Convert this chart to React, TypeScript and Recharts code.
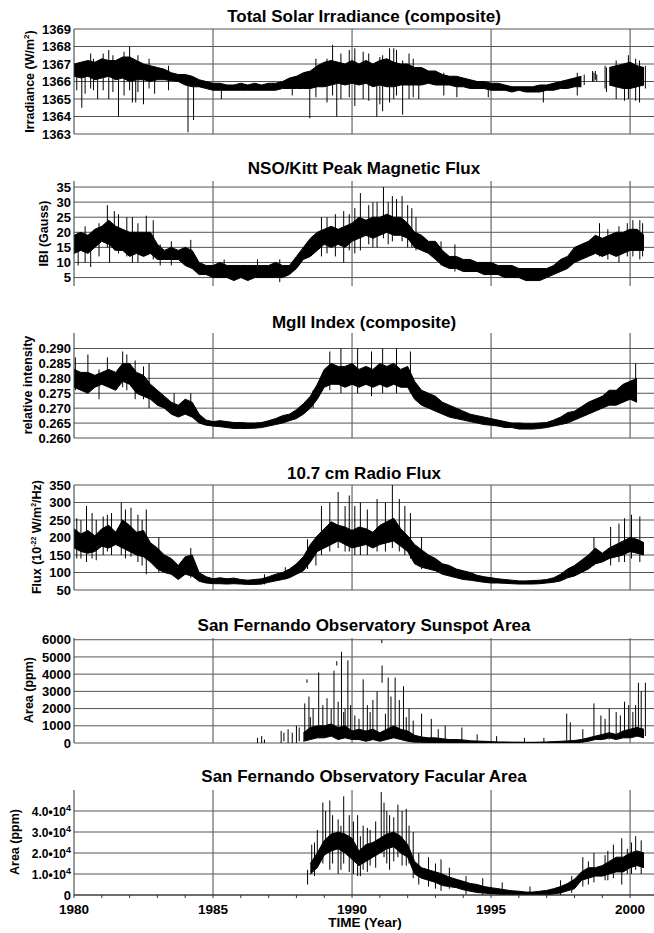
import React from "react";
import { ComposedChart, Area, Line, XAxis, YAxis, CartesianGrid } from "recharts";

const FONT = '"Liberation Sans", Arial, Helvetica, sans-serif';
const W = 654;
const PLOT_H = 105;
const X_MIN = 1980;
const X_MAX = 2000.86;
// bands are sampled every quarter year, starting at 1980.0
const STEP = 0.25;

const YEAR_TICKS = [1980, 1981, 1982, 1983, 1984, 1985, 1986, 1987, 1988, 1989, 1990, 1991, 1992, 1993, 1994, 1995, 1996, 1997, 1998, 1999, 2000];
const GRID_YEARS = [1985, 1990, 1995, 2000];

// ---- Total Solar Irradiance (W/m2) ----
const TSI_TICKS = [1363, 1364, 1365, 1366, 1367, 1368, 1369];
const TSI_LO = [
  1366.3, 1366.2, 1366.3, 1366.1,
  1366.2, 1366.3, 1366.1, 1366.2,
  1366.0, 1366.1, 1366.1, 1366.0,
  1366.1, 1366.1, 1366.05, 1366.0,
  1365.8, 1365.7, 1365.7, 1365.6,
  1365.5, 1365.5, 1365.5, 1365.5,
  1365.5, 1365.5, 1365.5, 1365.5,
  1365.5, 1365.5, 1365.6, 1365.6,
  1365.6, 1365.6, 1365.6, 1365.7,
  1365.7, 1365.8, 1365.9, 1365.8,
  1365.9, 1365.8, 1365.9, 1365.7,
  1365.8, 1365.7, 1365.7, 1365.8,
  1365.8, 1365.8, 1365.8, 1365.9,
  1365.8, 1365.8, 1365.8, 1365.7,
  1365.7, 1365.6, 1365.6, 1365.6,
  1365.5, 1365.5, 1365.5, 1365.4,
  1365.5, 1365.4, 1365.4, 1365.4,
  1365.5, 1365.5, 1365.6, 1365.6,
  1365.7, 1365.7, null, null,
  null, 1365.8, 1365.7, 1365.6,
  1365.6, 1365.7, 1365.8,
];
const TSI_HI = [
  1367.0, 1367.1, 1367.2, 1367.1,
  1367.3, 1367.2, 1367.2, 1367.4,
  1367.4, 1367.2, 1367.0, 1366.9,
  1366.8, 1366.7, 1366.5, 1366.4,
  1366.4, 1366.3, 1366.1, 1366.0,
  1365.9, 1365.9, 1365.8, 1365.8,
  1365.9, 1365.8, 1365.9, 1365.8,
  1365.9, 1365.9, 1366.0, 1366.2,
  1366.3, 1366.5, 1366.6, 1366.9,
  1367.1, 1367.2, 1367.1, 1367.0,
  1367.2, 1367.0, 1367.2, 1367.0,
  1367.2, 1367.3, 1367.1, 1367.0,
  1367.0, 1366.8, 1366.8, 1366.6,
  1366.6, 1366.4, 1366.3, 1366.3,
  1366.2, 1366.1, 1366.0, 1366.0,
  1365.9, 1365.9, 1365.8, 1365.7,
  1365.7, 1365.7, 1365.7, 1365.8,
  1365.8, 1365.9, 1366.0, 1366.1,
  1366.2, 1366.3, null, null,
  null, 1366.8, 1366.9, 1367.0,
  1367.1, 1366.9, 1366.8,
];
const TSI_SPK_T = [1980.1, 1980.28, 1980.4, 1980.6, 1980.7, 1980.85, 1981.05, 1981.25, 1981.4, 1981.6, 1981.8, 1982.0, 1982.1, 1982.22, 1982.3, 1982.5, 1982.7, 1982.9, 1983.4, 1984.1, 1984.3, 1985.3, 1987.85, 1988.48, 1988.7, 1989.1, 1989.3, 1989.45, 1989.6, 1989.9, 1990.1, 1990.4, 1990.6, 1990.89, 1991.0, 1991.1, 1991.35, 1991.5, 1991.6, 1991.82, 1992.05, 1992.2, 1992.4, 1993.3, 1993.77, 1994.9, 1996.88, 1998.1, 1998.35, 1998.65, 1998.7, 1998.75, 1998.8, 1999.1, 1999.15, 1999.5, 1999.8, 1999.94, 2000.2, 2000.34, 2000.55];
const TSI_SPK_LO = [1365.5, 1364.5, 1365.3, 1365.6, 1365.5, 1365.0, 1365.5, 1365.0, 1365.4, 1364.0, 1365.2, 1365.5, 1364.8, 1364.8, 1365.4, 1364.7, 1365.6, 1365.3, 1365.5, 1363.1, 1363.8, 1365.0, 1365.2, 1363.9, 1365.1, 1364.8, 1365.2, 1364.0, 1365.0, 1365.1, 1364.6, 1365.0, 1364.9, 1364.0, 1364.7, 1364.3, 1364.8, 1365.0, 1365.2, 1364.1, 1365.0, 1365.1, 1365.0, 1365.2, 1365.1, 1365.1, 1364.8, 1365.2, 1365.8, 1366.0, 1366.0, 1366.1, 1366.0, 1365.6, 1365.4, 1365.0, 1364.9, 1365.0, 1364.9, 1364.8, 1365.6];
const TSI_SPK_HI = [1367.0, 1366.8, 1367.0, 1367.6, 1367.3, 1367.0, 1367.6, 1367.8, 1367.5, 1366.8, 1367.7, 1368.0, 1366.5, 1366.5, 1367.5, 1366.5, 1367.3, 1366.8, 1366.9, 1366.3, 1366.2, 1365.8, 1366.0, 1366.3, 1367.3, 1367.3, 1368.1, 1367.0, 1367.6, 1367.8, 1367.9, 1367.7, 1367.6, 1367.0, 1367.4, 1367.5, 1367.9, 1367.9, 1367.8, 1367.2, 1367.6, 1367.3, 1366.8, 1366.5, 1366.3, 1365.9, 1365.7, 1366.5, 1366.4, 1366.6, 1366.5, 1366.6, 1366.4, 1366.9, 1366.8, 1367.2, 1366.8, 1367.5, 1367.3, 1367.2, 1366.9];

// ---- NSO/Kitt Peak magnetic flux (G) ----
const MAG_TICKS = [5, 10, 15, 20, 25, 30, 35];
const MAG_LO = [
  13, 14, 13, 15,
  17, 16, 14, 14,
  12, 13, 12, 13,
  11, 11, 11, 11,
  9, 8, 6, 6,
  5, 5, 5, 4,
  5, 4, 5, 5,
  5, 5, 5, 6,
  8, 11, 12, 14,
  16, 15, 16, 15,
  17, 18, 19, 18,
  19, 20, 19, 19,
  18, 15, 14, 13,
  11, 9, 8, 8,
  7, 7, 7, 6,
  6, 6, 5, 5,
  5, 4, 4, 4,
  5, 6, 7, 8,
  10, 11, 12, 13,
  12, 13, 12, 13,
  14, 14, 14,
];
const MAG_HI = [
  19, 20, 19, 21,
  22, 24, 22, 21,
  20, 20, 20, 20,
  16, 14, 15, 14,
  15, 14, 10, 9,
  9, 10, 9, 9,
  9, 9, 9, 9,
  9, 10, 9, 9,
  12, 15, 18, 20,
  21, 22, 21, 22,
  23, 25, 24, 25,
  25, 26, 25, 25,
  23, 20, 19, 17,
  17, 14, 12, 12,
  11, 11, 10, 10,
  10, 9, 9, 9,
  8, 8, 8, 8,
  8, 9, 11, 12,
  15, 16, 17, 19,
  18, 19, 20, 20,
  21, 21, 19,
];
const MAG_SPK_T = [1980.15, 1980.4, 1980.6, 1980.9, 1981.2, 1981.28, 1981.45, 1981.6, 1981.9, 1982.1, 1982.3, 1982.6, 1982.85, 1983.1, 1983.5, 1984.2, 1985.4, 1986.6, 1987.4, 1988.9, 1989.1, 1989.4, 1989.7, 1989.9, 1990.1, 1990.3, 1990.6, 1990.75, 1990.9, 1991.13, 1991.3, 1991.45, 1991.6, 1991.8, 1992.0, 1992.15, 1992.3, 1993.2, 1993.7, 1998.9, 1999.2, 1999.6, 1999.9, 2000.1, 2000.35, 2000.45];
const MAG_SPK_LO = [9, 10, 8.5, 12, 15, 10, 14, 13, 12, 10, 10, 14, 11, 9, 9, 9, 6, 5, 3.5, 12, 13, 12, 10, 14, 13, 14, 16, 15, 15, 18, 16, 17, 20, 17, 15, 15, 14, 9, 7, 12, 11, 10, 12, 12, 11, 12];
const MAG_SPK_HI = [20, 22, 18, 23, 29, 22, 27, 26, 25, 25, 23, 25.5, 24, 16, 17, 17.5, 11, 11, 11, 25, 25, 26, 27, 26, 28, 33, 29, 30, 30, 35, 30, 32, 31, 32, 29, 28, 25, 17, 16, 23, 21, 22, 23, 24, 24, 23];

// ---- MgII index (relative intensity) ----
const MG_TICKS = [0.26, 0.265, 0.27, 0.275, 0.28, 0.285, 0.29];
const MG_LO = [
  0.277, 0.276, 0.275, 0.277,
  0.278, 0.277, 0.276, 0.279,
  0.278, 0.275, 0.274, 0.273,
  0.271, 0.27, 0.268, 0.267,
  0.268, 0.267, 0.265, 0.2643,
  0.264, 0.2638, 0.2635, 0.2632,
  0.2632, 0.2632, 0.2633, 0.2635,
  0.264, 0.2645, 0.265, 0.2658,
  0.2665, 0.268, 0.27, 0.273,
  0.277, 0.278, 0.278, 0.277,
  0.278, 0.277, 0.278, 0.277,
  0.278, 0.277, 0.278, 0.277,
  0.277, 0.273, 0.271, 0.27,
  0.269, 0.268, 0.267, 0.2665,
  0.266, 0.2655, 0.265, 0.2645,
  0.2643, 0.264, 0.2635, 0.2635,
  0.263, 0.263, 0.263, 0.2632,
  0.2635, 0.264, 0.2645, 0.265,
  0.266, 0.267, 0.268, 0.269,
  0.27, 0.271, 0.271, 0.272,
  0.273, 0.272, null,
];
const MG_HI = [
  0.283, 0.282, 0.282, 0.281,
  0.282, 0.283, 0.282, 0.285,
  0.285, 0.282, 0.281, 0.278,
  0.276, 0.274, 0.272, 0.271,
  0.273, 0.272, 0.268, 0.266,
  0.2655, 0.2658, 0.2655, 0.2652,
  0.2652, 0.265, 0.265, 0.2652,
  0.2658, 0.2665, 0.2675, 0.268,
  0.2695, 0.2715, 0.274, 0.278,
  0.283, 0.285, 0.284, 0.284,
  0.285, 0.283, 0.284, 0.283,
  0.285, 0.284, 0.285, 0.283,
  0.284, 0.279, 0.276, 0.275,
  0.274, 0.272, 0.271, 0.27,
  0.269, 0.268, 0.2675, 0.267,
  0.2665, 0.266, 0.2655, 0.265,
  0.265, 0.2648, 0.2648, 0.265,
  0.2652, 0.266, 0.267, 0.2685,
  0.269, 0.2705, 0.272, 0.273,
  0.274, 0.276, 0.276, 0.278,
  0.279, 0.28, null,
];
const MG_SPK_T = [1980.05, 1980.5, 1980.9, 1981.2, 1981.75, 1981.9, 1982.2, 1982.5, 1982.7, 1983.6, 1984.2, 1988.6, 1989.2, 1989.6, 1990.2, 1990.7, 1991.1, 1991.6, 1992.1, 2000.2];
const MG_SPK_LO = [0.276, 0.275, 0.273, 0.278, 0.277, 0.276, 0.273, 0.273, 0.27, 0.268, 0.267, 0.27, 0.276, 0.275, 0.275, 0.274, 0.275, 0.275, 0.275, 0.272];
const MG_SPK_HI = [0.287, 0.288, 0.283, 0.287, 0.289, 0.288, 0.286, 0.284, 0.285, 0.275, 0.275, 0.276, 0.289, 0.29, 0.29, 0.289, 0.29, 0.29, 0.289, 0.285];

// ---- 10.7 cm radio flux (10^-22 W/m2/Hz) ----
const FLX_TICKS = [50, 100, 150, 200, 250, 300, 350];
const FLX_LO = [
  170, 160, 155, 160,
  175, 170, 180, 170,
  160, 150, 145, 130,
  110, 100, 95, 80,
  95, 90, 75, 70,
  68, 68, 67, 68,
  67, 66, 66, 67,
  72, 76, 80, 85,
  95, 105, 130, 160,
  170, 180, 190, 180,
  170, 175, 180, 170,
  180, 185, 190, 175,
  160, 125, 115, 110,
  105, 95, 90, 85,
  80, 78, 75, 72,
  70, 70, 69, 68,
  67, 67, 67, 68,
  70, 72, 76, 85,
  90, 100, 110, 125,
  130, 140, 145, 150,
  160, 155, 150,
];
const FLX_HI = [
  225, 210, 220, 205,
  225, 235, 215, 250,
  235, 215, 220, 185,
  170, 150, 140, 120,
  145, 150, 100, 88,
  82, 85, 82, 84,
  80, 78, 80, 82,
  88, 95, 100, 110,
  125, 145, 180, 205,
  225, 245, 235, 230,
  220, 230, 225, 215,
  235, 245, 255, 225,
  205, 180, 165, 150,
  140, 125, 120, 110,
  105, 100, 92, 88,
  85, 82, 80, 78,
  76, 76, 77, 78,
  80, 85, 95, 110,
  120, 135, 150, 170,
  155, 170, 180, 190,
  200, 195, 185,
];
const FLX_SPK_T = [1980.1, 1980.25, 1980.45, 1980.65, 1980.8, 1981.05, 1981.2, 1981.35, 1981.7, 1981.85, 1982.05, 1982.3, 1982.45, 1982.6, 1983.05, 1984.2, 1986.85, 1987.6, 1988.4, 1988.7, 1988.9, 1989.2, 1989.5, 1989.75, 1989.9, 1990.1, 1990.3, 1990.55, 1990.9, 1991.2, 1991.45, 1991.7, 1991.9, 1992.1, 1992.5, 1998.7, 1999.3, 1999.6, 1999.8, 2000.05, 2000.35];
const FLX_SPK_LO = [140, 140, 130, 140, 135, 150, 160, 150, 150, 140, 145, 130, 120, 95, 100, 85, 66, 80, 110, 120, 150, 160, 170, 160, 160, 150, 150, 150, 160, 160, 170, 160, 150, 140, 110, 120, 120, 130, 130, 140, 130];
const FLX_SPK_HI = [255, 250, 290, 270, 250, 260, 265, 270, 300, 280, 285, 265, 250, 280, 200, 170, 95, 115, 195, 200, 290, 300, 330, 290, 320, 290, 300, 280, 310, 300, 350, 310, 290, 270, 200, 200, 230, 240, 255, 265, 260];

// ---- SFO sunspot area (ppm) ----
const SSA_TICKS = [0, 1000, 2000, 3000, 4000, 5000, 6000];
const SSA_LO = [
  null, null, null, null,
  null, null, null, null,
  null, null, null, null,
  null, null, null, null,
  null, null, null, null,
  null, null, null, null,
  null, null, null, null,
  null, null, null, null,
  null, 100, 200, 300,
  300, 400, 200, 300,
  200, 200, 100, 200,
  100, 200, 300, 200,
  100, 50, 50, 0,
  0, 0, 0, 0,
  0, 0, 0, 0,
  0, 0, 0, 0,
  0, 0, 0, 0,
  0, 0, 0, 0,
  0, 50, 100, 200,
  200, 300, 200, 300,
  300, 400, 300,
];
const SSA_HI = [
  null, null, null, null,
  null, null, null, null,
  null, null, null, null,
  null, null, null, null,
  null, null, null, null,
  null, null, null, null,
  null, null, null, null,
  null, null, null, null,
  null, 600, 900, 1000,
  1000, 1100, 900, 1000,
  700, 800, 700, 800,
  600, 800, 1000, 800,
  700, 450, 350, 300,
  300, 250, 200, 200,
  180, 130, 110, 100,
  80, 60, 60, 50,
  50, 40, 40, 50,
  60, 80, 100, 120,
  150, 200, 300, 400,
  500, 600, 500, 700,
  800, 900, 800,
];
const SSA_SPK_T = [1986.6, 1986.75, 1986.85, 1987.45, 1987.55, 1987.7, 1987.85, 1988.0, 1988.1, 1988.3, 1988.38, 1988.45, 1988.5, 1988.6, 1988.8, 1988.95, 1989.1, 1989.25, 1989.35, 1989.45, 1989.5, 1989.62, 1989.7, 1989.75, 1989.85, 1989.95, 1990.1, 1990.25, 1990.4, 1990.55, 1990.65, 1990.75, 1990.9, 1991.07, 1991.08, 1991.2, 1991.3, 1991.4, 1991.55, 1991.7, 1991.85, 1991.95, 1992.05, 1992.2, 1992.5, 1992.85, 1993.1, 1993.35, 1993.95, 1994.5, 1995.2, 1996.2, 1996.9, 1997.72, 1997.85, 1998.3, 1998.7, 1998.95, 1999.1, 1999.25, 1999.5, 1999.65, 1999.8, 1999.95, 2000.1, 2000.2, 2000.3, 2000.4, 2000.55];
const SSA_SPK_LO = [0, 0, 0, 0, 100, 0, 0, 0, 100, 500, 3500, 500, 300, 800, 1000, 500, 800, 400, 700, 4500, 500, 800, 300, 400, 900, 600, 300, 200, 300, 200, 200, 400, 300, 5800, 3500, 300, 500, 600, 800, 500, 400, 200, 300, 100, 0, 0, 0, 0, 0, 0, 0, 0, 0, 0, 0, 0, 200, 300, 200, 200, 300, 300, 300, 400, 300, 400, 500, 600, 400];
const SSA_SPK_HI = [300, 400, 200, 700, 600, 800, 600, 1000, 900, 2300, 3700, 2700, 1500, 2000, 4100, 2200, 2600, 2000, 4200, 4750, 2400, 5300, 1800, 2000, 4800, 2200, 1600, 1400, 3700, 2200, 1800, 2500, 3000, 6000, 4500, 1700, 3800, 2700, 3800, 2500, 3300, 1500, 2000, 1300, 1700, 1400, 800, 1000, 900, 500, 400, 300, 300, 1700, 1200, 800, 2300, 1600, 1400, 2000, 1800, 1600, 2400, 2200, 1800, 2200, 3500, 3000, 3500];

// ---- SFO facular area (ppm) ----
const FAC_TICKS = [0, 10000, 20000, 30000, 40000];
const FAC_LO = [
  null, null, null, null,
  null, null, null, null,
  null, null, null, null,
  null, null, null, null,
  null, null, null, null,
  null, null, null, null,
  null, null, null, null,
  null, null, null, null,
  null, null, 10000, 13000,
  19000, 21000, 22000, 20000,
  17000, 14000, 16000, 18000,
  20000, 22000, 23000, 20000,
  18000, 10000, 8000, 7000,
  6000, 4500, 4000, 3500,
  2500, 1800, 1200, 900,
  600, 400, 200, 0,
  0, 0, 0, 0,
  0, 500, 1000, 2000,
  3000, 7000, 8000, 9000,
  9000, 10000, 11000, 11000,
  13000, 14000, 13000,
];
const FAC_HI = [
  null, null, null, null,
  null, null, null, null,
  null, null, null, null,
  null, null, null, null,
  null, null, null, null,
  null, null, null, null,
  null, null, null, null,
  null, null, null, null,
  null, null, 15000, 20000,
  26000, 29000, 30000, 29000,
  27000, 21000, 24000, 25000,
  27000, 29000, 30000, 28000,
  24000, 16000, 13000, 12000,
  11000, 10000, 8500, 7500,
  6500, 5500, 5000, 4000,
  3500, 3000, 2500, 2000,
  1800, 1400, 1400, 1800,
  2200, 3000, 4000, 5500,
  7500, 11000, 13000, 13000,
  14000, 16000, 18000, 18000,
  20000, 21000, 20000,
];
const FAC_SPK_T = [1988.4, 1988.55, 1988.65, 1988.75, 1988.95, 1989.05, 1989.2, 1989.3, 1989.5, 1989.6, 1989.7, 1989.9, 1990.05, 1990.2, 1990.3, 1990.4, 1990.55, 1990.65, 1990.85, 1991.05, 1991.15, 1991.25, 1991.35, 1991.5, 1991.65, 1991.8, 1991.95, 1992.05, 1992.2, 1992.4, 1992.75, 1993.0, 1993.2, 1993.5, 1994.1, 1994.7, 1995.4, 1996.4, 1997.5, 1997.9, 1998.3, 1998.5, 1998.7, 1999.1, 1999.2, 1999.4, 1999.7, 1999.9, 2000.05, 2000.2, 2000.4];
const FAC_SPK_LO = [5000, 10000, 9000, 14000, 15000, 20000, 12000, 15000, 10000, 12000, 15000, 11000, 10000, 9000, 9000, 12000, 11000, 14000, 13000, 20000, 18000, 15000, 12000, 16000, 18000, 14000, 14000, 15000, 8000, 5000, 4000, 3000, 2000, 3000, 500, 0, 0, 0, 0, 1000, 4000, 5000, 6000, 7000, 7000, 8000, 5000, 10000, 10000, 12000, 10000];
const FAC_SPK_HI = [12000, 24000, 25000, 31000, 44000, 40000, 45000, 38000, 36000, 33000, 47000, 38000, 35000, 38000, 28000, 33000, 32000, 31000, 35000, 49000, 44000, 40000, 38000, 37000, 43000, 40000, 41000, 33000, 30000, 20000, 18000, 15000, 17000, 13000, 9000, 8000, 6000, 4000, 7000, 9000, 18000, 16000, 20000, 19000, 21000, 24000, 27000, 22000, 25000, 28000, 26000];

const TICK_STYLE = { fontSize: 13, fontWeight: 700, fill: "#000", fontFamily: FONT };

function SciTick(props: any) {
  const { x, y, payload } = props;
  const v = payload.value as number;
  if (v === 0) {
    return (
      <text x={x} y={y} dy={4.5} textAnchor="end" style={TICK_STYLE}>0</text>
    );
  }
  return (
    <text x={x} y={y} dy={4.5} textAnchor="end" style={{ ...TICK_STYLE, fontSize: 12 }}>
      <tspan>{(v / 10000).toFixed(1)}{"\u2022"}10</tspan>
      <tspan dy={-5} fontSize={9}>4</tspan>
    </text>
  );
}

interface PanelProps {
  plotTop: number;
  lo: (number | null)[];
  hi: (number | null)[];
  spkT: number[];
  spkLo: number[];
  spkHi: number[];
  domain: [number, number];
  ticks: number[];
  fmt?: (v: number) => string;
  sci?: boolean;
  last?: boolean;
}

function Panel({ plotTop, lo, hi, spkT, spkLo, spkHi, domain, ticks, fmt, sci, last }: PanelProps) {
  const rows = lo.map((l, i) => ({
    t: X_MIN + i * STEP,
    band: l == null || hi[i] == null ? null : [l, hi[i]],
  }));
  const spikes = spkT.flatMap((t, i) => [
    { t, s: spkHi[i] },
    { t, s: spkLo[i] },
    { t, s: null },
  ]);
  const mTop = 8;
  const mBottom = last ? 4 : 8;
  const axisH = last ? 30 : 0;
  const h = PLOT_H + mTop + mBottom + axisH;

  return (
    <div style={{ position: "absolute", left: 0, top: plotTop - mTop }}>
      <ComposedChart width={W} height={h} data={rows} margin={{ top: mTop, right: 0, bottom: mBottom, left: 0 }}>
        <CartesianGrid vertical={false} horizontalValues={ticks} stroke="#555" strokeWidth={1} />
        <CartesianGrid horizontal={false} verticalValues={GRID_YEARS} stroke="#666" strokeWidth={1.2} />
        <XAxis type="number" dataKey="t" domain={[X_MIN, X_MAX]} allowDataOverflow ticks={GRID_YEARS} height={0} hide />
        <XAxis
          xAxisId="top"
          orientation="top"
          type="number"
          dataKey="t"
          domain={[X_MIN, X_MAX]}
          allowDataOverflow
          ticks={YEAR_TICKS}
          interval={0}
          mirror
          height={0}
          tick={false}
          tickSize={3}
          tickLine={{ stroke: "#333" }}
          axisLine={{ stroke: "#666" }}
        />
        {last ? (
          <XAxis
            xAxisId="bot"
            type="number"
            dataKey="t"
            domain={[X_MIN, X_MAX]}
            allowDataOverflow
            ticks={YEAR_TICKS}
            interval={0}
            height={axisH}
            tickSize={3}
            tickMargin={6}
            tickFormatter={(v: number) => (v % 5 === 0 ? String(v) : "")}
            tick={{ ...TICK_STYLE, fontSize: 13.5 }}
            tickLine={{ stroke: "#333" }}
            axisLine={{ stroke: "#333" }}
          />
        ) : (
          <XAxis
            xAxisId="bot"
            type="number"
            dataKey="t"
            domain={[X_MIN, X_MAX]}
            allowDataOverflow
            ticks={YEAR_TICKS}
            interval={0}
            mirror
            height={0}
            tick={false}
            tickSize={3}
            tickLine={{ stroke: "#333" }}
            axisLine={{ stroke: "#333" }}
          />
        )}
        <YAxis
          type="number"
          domain={domain}
          allowDataOverflow
          ticks={ticks}
          interval={0}
          width={74}
          tickSize={0}
          tickMargin={3}
          tickLine={false}
          axisLine={{ stroke: "#333" }}
          tick={sci ? <SciTick /> : TICK_STYLE}
          tickFormatter={fmt}
        />
        <Area
          type="linear"
          dataKey="band"
          stroke="#000"
          strokeWidth={1}
          fill="#000"
          fillOpacity={1}
          isAnimationActive={false}
          connectNulls={false}
          dot={false}
          activeDot={false}
        />
        <Line
          type="linear"
          data={spikes}
          dataKey="s"
          stroke="#000"
          strokeWidth={1}
          dot={false}
          activeDot={false}
          connectNulls={false}
          isAnimationActive={false}
        />
      </ComposedChart>
    </div>
  );
}

const TITLES = [
  "Total Solar Irradiance (composite)",
  "NSO/Kitt Peak Magnetic Flux",
  "MgII Index (composite)",
  "10.7 cm Radio Flux",
  "San Fernando Observatory Sunspot Area",
  "San Fernando Observatory Facular Area",
];
const PLOT_TOPS = [29, 181, 333, 484.5, 638, 789.5];
const TITLE_BASE = [21.5, 174, 328, 478.5, 631, 782];

function YLabel({ x, y, children }: { x: number; y: number; children: React.ReactNode }) {
  return (
    <text
      transform={`translate(${x},${y}) rotate(-90)`}
      textAnchor="middle"
      style={{ fontSize: 12.5, fontWeight: 700, fontFamily: FONT, fill: "#000" }}
    >
      {children}
    </text>
  );
}

export default function App() {
  return (
    <div
      style={{
        position: "absolute",
        left: 0,
        top: 0,
        width: W,
        height: 933,
        background: "#fff",
        fontFamily: FONT,
        overflow: "hidden",
      }}
    >
      <Panel plotTop={PLOT_TOPS[0]} lo={TSI_LO} hi={TSI_HI} spkT={TSI_SPK_T} spkLo={TSI_SPK_LO} spkHi={TSI_SPK_HI} domain={[1363, 1369]} ticks={TSI_TICKS} />
      <Panel plotTop={PLOT_TOPS[1]} lo={MAG_LO} hi={MAG_HI} spkT={MAG_SPK_T} spkLo={MAG_SPK_LO} spkHi={MAG_SPK_HI} domain={[2.2, 37]} ticks={MAG_TICKS} />
      <Panel plotTop={PLOT_TOPS[2]} lo={MG_LO} hi={MG_HI} spkT={MG_SPK_T} spkLo={MG_SPK_LO} spkHi={MG_SPK_HI} domain={[0.26, 0.2952]} ticks={MG_TICKS} fmt={(v) => v.toFixed(3)} />
      <Panel plotTop={PLOT_TOPS[3]} lo={FLX_LO} hi={FLX_HI} spkT={FLX_SPK_T} spkLo={FLX_SPK_LO} spkHi={FLX_SPK_HI} domain={[50, 350]} ticks={FLX_TICKS} />
      <Panel plotTop={PLOT_TOPS[4]} lo={SSA_LO} hi={SSA_HI} spkT={SSA_SPK_T} spkLo={SSA_SPK_LO} spkHi={SSA_SPK_HI} domain={[0, 6100]} ticks={SSA_TICKS} />
      <Panel plotTop={PLOT_TOPS[5]} lo={FAC_LO} hi={FAC_HI} spkT={FAC_SPK_T} spkLo={FAC_SPK_LO} spkHi={FAC_SPK_HI} domain={[0, 50000]} ticks={FAC_TICKS} sci last />

      <svg
        width={W}
        height={933}
        style={{ position: "absolute", left: 0, top: 0, pointerEvents: "none" }}
      >
        {TITLES.map((t, i) => (
          <text
            key={t}
            x={364}
            y={TITLE_BASE[i]}
            textAnchor="middle"
            style={{ fontSize: 17, fontWeight: 700, fontFamily: FONT, fill: "#000" }}
          >
            {t}
          </text>
        ))}
        <YLabel x={33.5} y={81.5}>
          <tspan>Irradiance (W/m</tspan>
          <tspan dy={-5} fontSize={8}>2</tspan>
          <tspan dy={5}>)</tspan>
        </YLabel>
        <YLabel x={48} y={233.5}>IBI (Gauss)</YLabel>
        <YLabel x={31.5} y={385}>relative intensity</YLabel>
        <YLabel x={41} y={537}>
          <tspan>Flux (10</tspan>
          <tspan dy={-5} fontSize={7}>-22</tspan>
          <tspan dy={5}> W/m</tspan>
          <tspan dy={-5} fontSize={7}>2</tspan>
          <tspan dy={5}>/Hz)</tspan>
        </YLabel>
        <YLabel x={32.5} y={690}>Area (ppm)</YLabel>
        <YLabel x={19} y={842}>Area (ppm)</YLabel>
        <text
          x={365}
          y={926.5}
          textAnchor="middle"
          style={{ fontSize: 13.5, fontWeight: 700, fontFamily: FONT, fill: "#000" }}
        >
          TIME (Year)
        </text>
      </svg>
    </div>
  );
}
